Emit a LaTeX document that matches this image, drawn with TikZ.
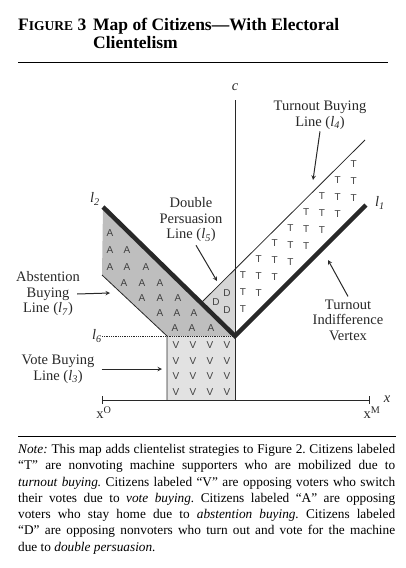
\documentclass[tikz,border=0pt]{standalone}
\usepackage{fontspec}
\setmainfont{Liberation Serif}
\setsansfont{Liberation Sans}
\usepackage{xcolor}
\usepackage{tikz}
\usetikzlibrary{arrows, positioning, calc}
\definecolor{abstgray}{RGB}{190,190,190}
\definecolor{votegray}{RGB}{226,226,226}
\definecolor{dblgray}{RGB}{214,214,214}
\definecolor{inkdark}{RGB}{40,40,40}

\begin{document}
\begin{tikzpicture}[
        x=1pt, y=-1pt,
        >=stealth,
        lbl/.style={align=center, inner sep=0pt, text=inkdark,
            font=\fontsize{14.5}{15.5}\selectfont},
        cit/.style={inner sep=0pt, text=black!75,
            font=\sffamily\fontsize{10}{10}\selectfont},
        thickln/.style={line width=4.5pt, draw=inkdark, line join=miter},
        thinln/.style={line width=0.8pt, draw=inkdark},
        pointer/.style={->, line width=1pt, draw=inkdark},
    ]
        \useasboundingbox (0,0) rectangle (406,568);

        \node[anchor=base west, inner sep=0pt, font=\bfseries\fontsize{17.5}{18}\selectfont] (fignum) at (18,30)
            {F{\fontsize{13.5}{14}\selectfont IGURE} 3};
        \node[anchor=base west, align=left, inner sep=0pt, font=\bfseries\fontsize{17.5}{18}\selectfont] (figtitle) at (93,48)
            {Map of Citizens—With Electoral\\Clientelism};
        \coordinate (trl) at (18,62);
        \coordinate (trr) at (388,62);
        \draw[line width=0.8pt] (trl) -- (trr);

        \coordinate (vtx) at (235,336);
        \coordinate (ctop) at (235,100);
        \coordinate (cbot) at (235,400);
        \coordinate (xo) at (102,400);
        \coordinate (xm) at (369,400);
        \coordinate (l1end) at (366,205);
        \coordinate (l2end) at (103,207);
        \coordinate (l4end) at (365,140);
        \coordinate (l4foot) at (235,269);
        \coordinate (l5foot) at (201,303);
        \coordinate (l7top) at (102,275);
        \coordinate (l7bot) at (167,336);
        \coordinate (l3bot) at (167,400);
        \coordinate (l6left) at (102,336);

        \fill[abstgray] (l2end) -- (vtx) -- (l7bot) -- (l7top) -- cycle;
        \fill[dblgray] (l5foot) -- (l4foot) -- (vtx) -- cycle;
        \fill[votegray] (l7bot) rectangle (cbot);

        \draw[thinln] (ctop) -- (cbot);
        \draw[thinln] (xo) -- (xm);
        \draw[thinln] ([yshift=-4pt]xo) -- ([yshift=4pt]xo);
        \draw[thinln] ([yshift=-4pt]xm) -- ([yshift=4pt]xm);
        \draw[thinln] (l5foot) -- (l4end);
        \draw[thinln] (l7top) -- (l7bot) -- (l3bot);
        \draw[thinln, densely dotted] (l6left) -- (vtx);
        \draw[thickln] (l2end) -- (vtx) -- (l1end);

        \foreach \px/\py [count=\i] in {110/233, 110/250, 127/250, 110/267, 127/267, 146/267,
                124/283, 142/283, 160/283, 142/298, 160/298, 178/298,
                160/313, 177/313, 194/313, 175/328, 192/328, 211/328}
            \node[cit] (abst\i) at (\px,\py) {A};
        \foreach \k in {0,...,7}
            \foreach \j in {0,1,2}
                \node[cit] (turn\k\j) at ({243+15.8*\k},{275-15.8*\k+17*\j}) {T};
        \foreach \px/\py [count=\i] in {227/293, 216/302, 227/310}
            \node[cit] (dbl\i) at (\px,\py) {D};
        \foreach \c in {0,...,3}
            \foreach \r in {0,...,3}
                \node[cit] (vote\c\r) at ({176+17*\c},{345+15.7*\r}) {V};

        \node[lbl] (cname) at (235,87) {\textit{c}};
        \node[lbl] (xname) at (387,399) {\textit{x}};
        \node[lbl] (xoname) at (104,413) {x\textsuperscript{O}};
        \node[lbl] (xmname) at (372,413) {x\textsuperscript{M}};
        \node[lbl] (l2name) at (95,199) {\textit{l}\textsubscript{\textit{2}}};
        \node[lbl] (l1name) at (380,203) {\textit{l}\textsubscript{\textit{1}}};
        \node[lbl] (l6name) at (97,336) {\textit{l}\textsubscript{\textit{6}}};

        \node[lbl] (tbline) at (320,115) {Turnout Buying\\Line (\textit{l}\textsubscript{\textit{4}})};
        \node[lbl] (dpline) at (191,220) {Double\\Persuasion\\Line (\textit{l}\textsubscript{\textit{5}})};
        \node[lbl] (abline) at (48,294) {Abstention\\Buying\\Line (\textit{l}\textsubscript{\textit{7}})};
        \node[lbl] (vbline) at (58,369) {Vote Buying\\Line (\textit{l}\textsubscript{\textit{3}})};
        \node[lbl] (tivtx) at (348,320) {Turnout\\Indifference\\Vertex};

        \coordinate (tbtip) at (313,180);
        \coordinate (dptip) at (217,281);
        \coordinate (abtip) at (110,293);
        \coordinate (vbtip) at (162,369);
        \coordinate (titip) at (328,260);
        \draw[pointer] ([yshift=-2pt]tbline.south) -- (tbtip);
        \draw[pointer] ([xshift=5pt,yshift=-3pt]dpline.south) -- (dptip);
        \draw[pointer] ([xshift=-3pt]abline.east) -- (abtip);
        \draw[pointer] ([xshift=7pt]vbline.east) -- (vbtip);
        \draw[pointer] ([yshift=3pt]tivtx.north) -- (titip);

        \coordinate (nrl) at (18,436);
        \coordinate (nrr) at (396,436);
        \draw[line width=0.8pt] (nrl) -- (nrr);
        \node[anchor=north west, inner sep=0pt, text width=377pt, align=justify,
            font=\frenchspacing\fontsize{13.3}{16.3}\selectfont] (notetext) at (18,444)
            {\textit{Note:} This map adds clientelist strategies to Figure 2. Citizens labeled\linebreak
            “T” are nonvoting machine supporters who are mobilized due to\linebreak
            \textit{turnout buying.} Citizens labeled “V” are opposing voters who switch\linebreak
            their votes due to \textit{vote buying.} Citizens labeled “A” are opposing\linebreak
            voters who stay home due to \textit{abstention buying.} Citizens labeled\linebreak
            “D” are opposing nonvoters who turn out and vote for the machine\linebreak
            due to \textit{double persuasion.}};
    \end{tikzpicture}
\end{document}
